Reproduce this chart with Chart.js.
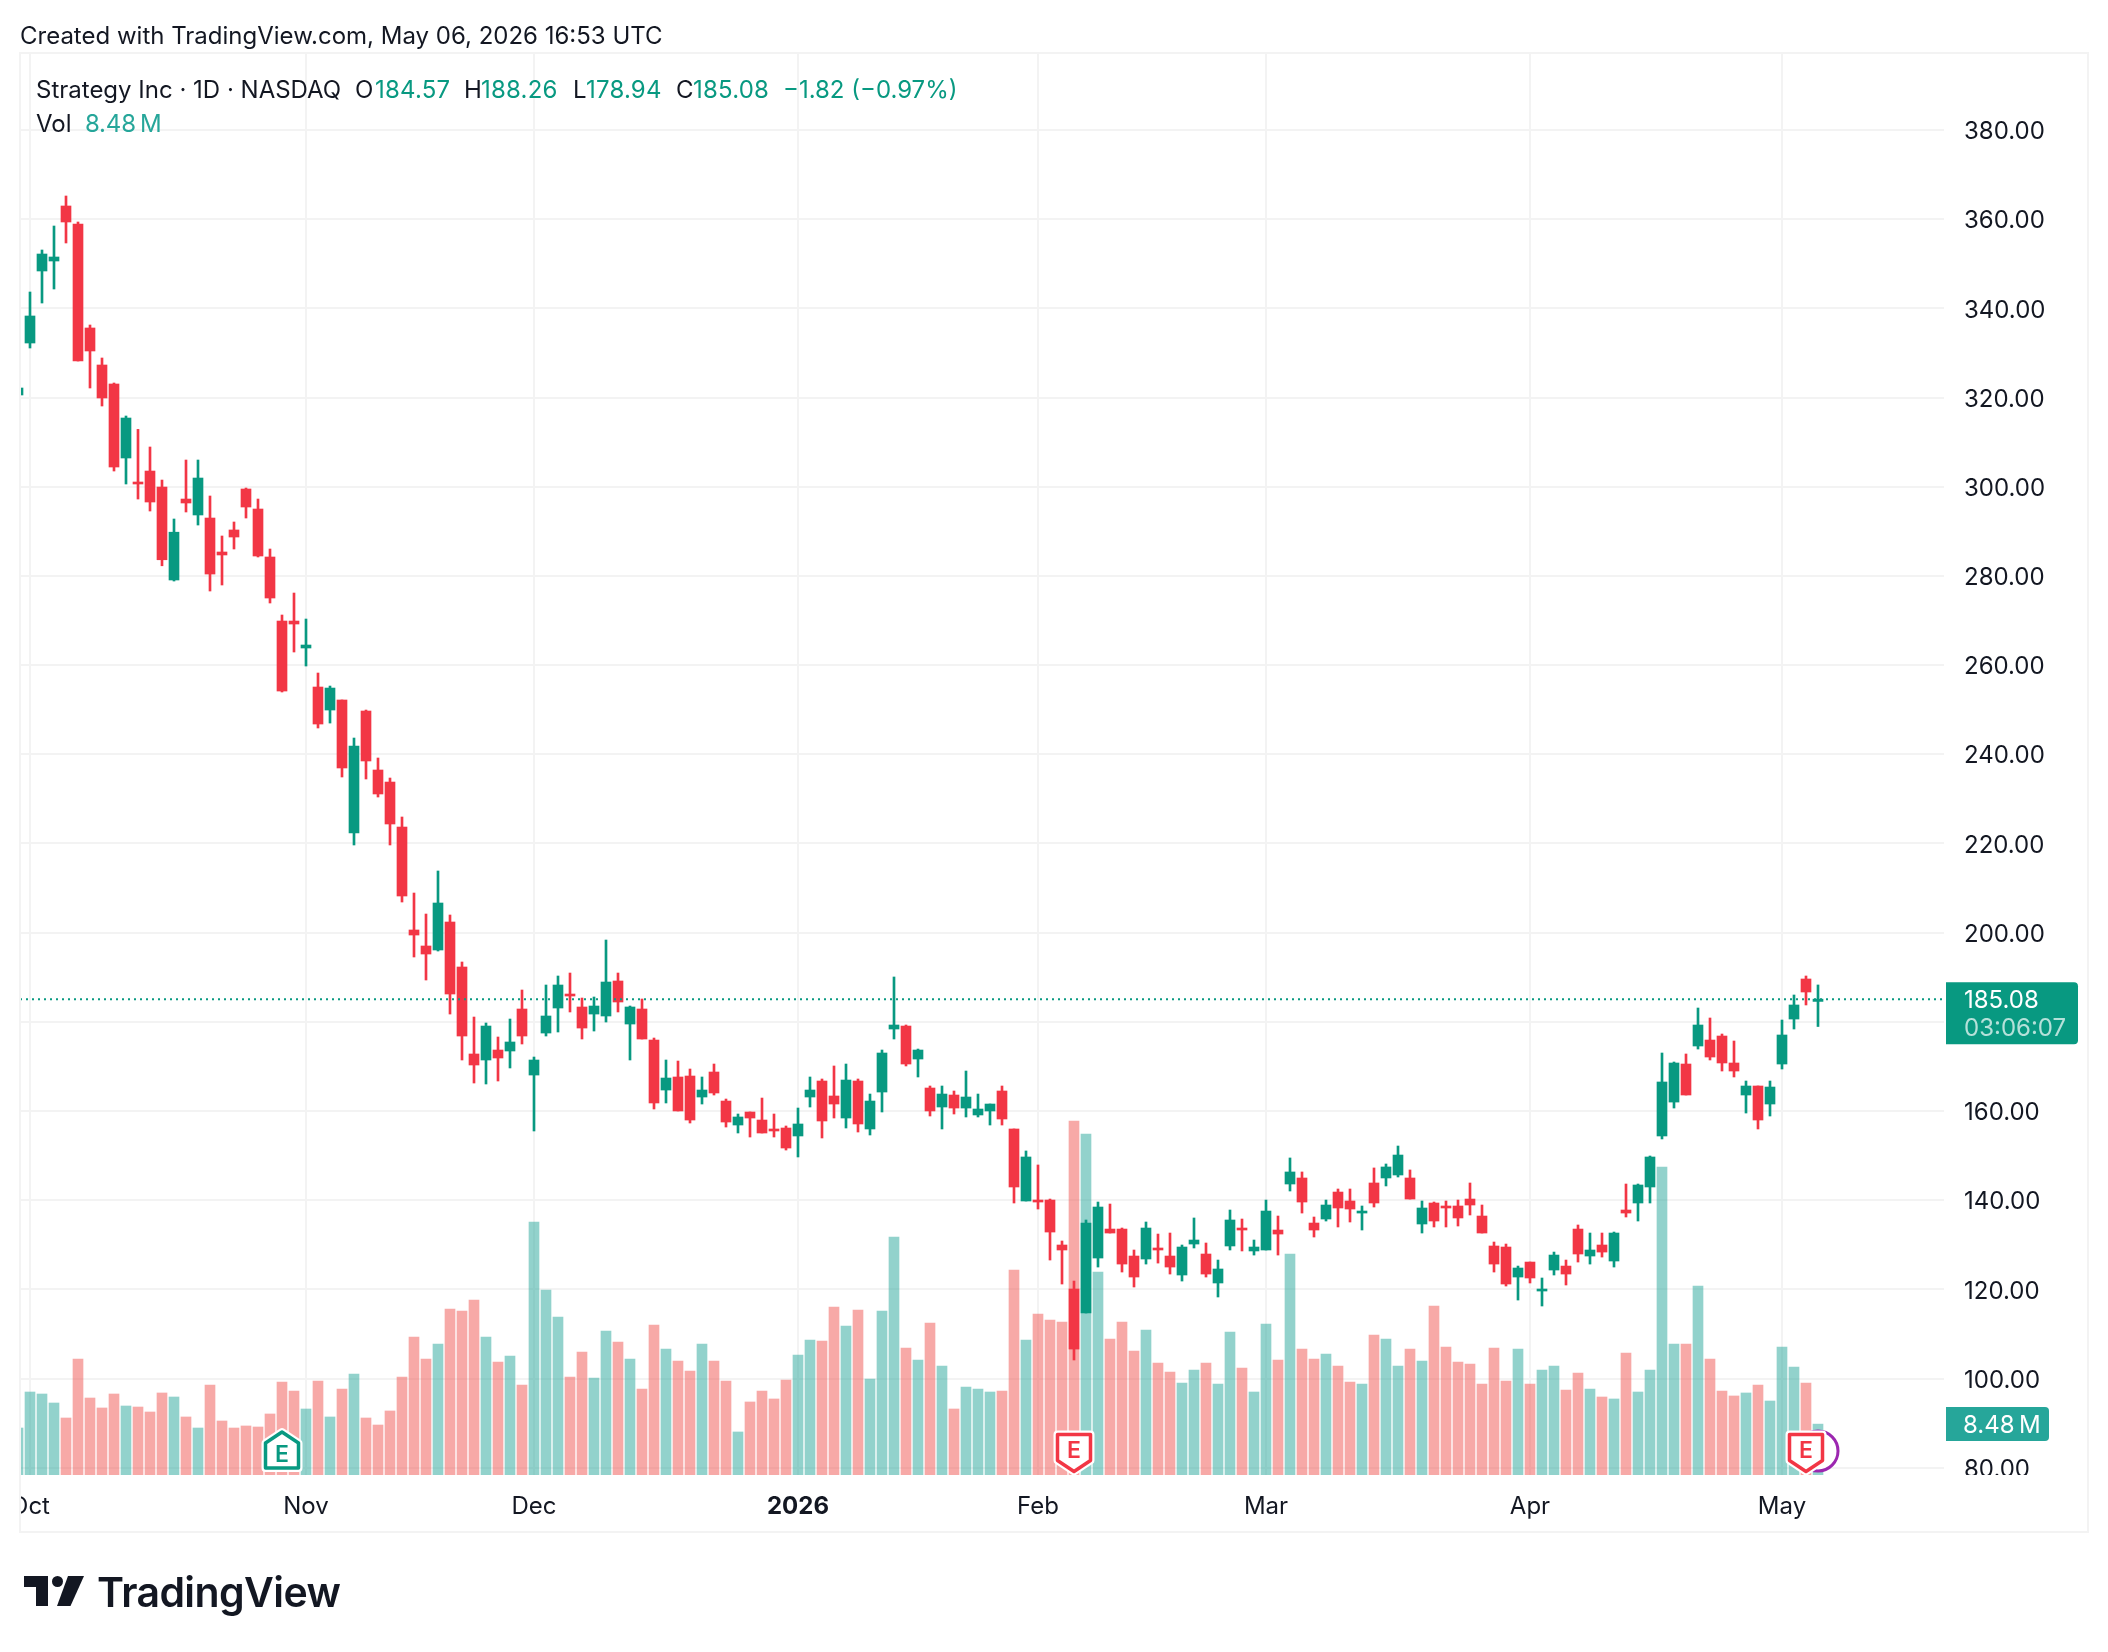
<!DOCTYPE html>
<html>
<head>
<meta charset="utf-8">
<title>Strategy Inc</title>
<script src="https://cdn.jsdelivr.net/npm/chart.js@4"></script>
<style>
    html, body { margin: 0; padding: 0; background: #fff; }
    #page { position: relative; width: 2108px; height: 1652px; overflow: hidden; font-family: Inter, sans-serif; color: #131722; }
    #grafico { position: absolute; left: 0; top: 0; }
    .txt { position: absolute; font-size: 24px; line-height: 30px; white-space: nowrap; }
    .up { color: #089981; letter-spacing: 0.2px; }
    .vol { color: #26a69a; }
    #marca { position: absolute; left: 97px; top: 1567px; font-size: 41px; line-height: 50px; font-weight: 600; color: #131722; white-space: nowrap; letter-spacing: -0.6px; }
</style>
</head>
<body>
<div id="page">
    <canvas id="grafico" width="2108" height="1652"></canvas>
    <div class="txt" style="left:20px;top:21px">Created with TradingView.com, May 06, 2026 16:53 UTC</div>
    <div class="txt" style="left:36px;top:75px">Strategy Inc · 1D · NASDAQ</div>
    <div class="txt" style="left:355px;top:75px">O</div>
    <div class="txt up" style="left:375px;top:75px">184.57</div>
    <div class="txt" style="left:464px;top:75px">H</div>
    <div class="txt up" style="left:481px;top:75px">188.26</div>
    <div class="txt" style="left:573px;top:75px">L</div>
    <div class="txt up" style="left:586px;top:75px">178.94</div>
    <div class="txt" style="left:676px;top:75px">C</div>
    <div class="txt up" style="left:693px;top:75px">185.08</div>
    <div class="txt up" style="left:783px;top:75px;letter-spacing:0">−1.82 (−0.97%)</div>
    <div class="txt" style="left:36px;top:109px">Vol</div>
    <div class="txt vol" style="left:85px;top:109px;letter-spacing:-0.2px">8.48&#8201;M</div>
    <svg style="position:absolute;left:0;top:1560px" width="100" height="60" fill="#131722">
        <polygon points="24,16 48,16 48,46 36,46 36,27 24,27"></polygon>
        <circle cx="57.5" cy="21.5" r="5.5"></circle>
        <polygon points="68,16 84,16 70.5,46 57,46"></polygon>
    </svg>
    <div id="marca">TradingView</div>
</div>

<script>
const opens = [
    320.57, 332.23, 348.38, 350.62, 362.96, 358.92, 335.6, 327.3, 323.04, 306.44,
    301.06, 303.52, 299.93, 279.08, 297.24, 293.66, 292.98, 285.36, 290.3, 299.49,
    295.0, 284.24, 269.88, 269.88, 263.83, 255.08, 249.92, 252.17, 222.34, 249.7,
    236.47, 233.77, 223.68, 200.59, 197.0, 196.1, 202.38, 192.29, 172.78, 171.43,
    173.67, 173.45, 182.87, 168.06, 177.48, 183.09, 186.23, 183.32, 181.74, 181.3,
    189.15, 179.5, 182.87, 175.91, 164.7, 167.62, 167.84, 163.13, 168.74, 162.23,
    156.85, 159.77, 157.97, 155.96, 156.18, 154.39, 163.13, 166.72, 163.36, 158.42,
    166.72, 155.96, 164.25, 178.38, 179.05, 171.65, 165.15, 160.89, 163.58, 160.66,
    159.1, 160.0, 164.48, 155.96, 139.81, 140.03, 140.03, 129.94, 120.07, 114.69,
    127.02, 133.52, 133.52, 127.47, 126.8, 129.27, 127.47, 123.21, 130.16, 127.92,
    121.42, 129.72, 133.75, 128.6, 128.82, 133.3, 143.62, 144.97, 134.87, 135.77,
    141.82, 139.81, 137.11, 143.85, 144.97, 145.64, 144.97, 134.65, 139.36, 138.69,
    138.69, 140.25, 136.44, 129.72, 129.49, 122.76, 126.12, 119.62, 124.33, 125.22,
    133.52, 127.47, 129.94, 126.35, 137.79, 139.36, 142.95, 154.39, 162.0, 170.53,
    174.57, 175.91, 176.81, 170.76, 163.58, 165.6, 161.56, 170.53, 180.62, 189.6,
    184.57
];
const highs = [
    322.14, 343.67, 353.09, 358.47, 365.2, 359.37, 336.27, 328.87, 323.26, 315.86,
    312.86, 308.91, 301.5, 292.76, 305.99, 305.99, 297.92, 288.95, 292.09, 299.71,
    297.24, 286.03, 271.23, 276.16, 270.33, 258.22, 255.3, 252.17, 243.64, 249.92,
    239.16, 234.67, 225.93, 208.88, 204.17, 213.82, 203.95, 193.41, 181.07, 179.73,
    176.59, 180.62, 187.13, 172.1, 188.25, 190.27, 190.94, 185.33, 185.56, 198.34,
    190.94, 183.54, 185.11, 176.36, 171.43, 171.2, 169.41, 167.62, 170.53, 162.68,
    159.32, 159.77, 162.9, 159.32, 156.63, 160.66, 167.62, 167.17, 170.09, 170.53,
    167.17, 163.8, 173.67, 190.05, 179.28, 173.89, 165.6, 165.6, 164.48, 168.96,
    163.8, 161.56, 165.6, 155.96, 151.03, 147.89, 140.25, 130.84, 121.86, 135.55,
    139.58, 139.13, 133.75, 128.82, 135.1, 132.4, 132.63, 129.94, 136.0, 130.39,
    126.57, 137.79, 135.77, 131.06, 140.03, 136.44, 149.46, 146.32, 136.22, 140.03,
    142.5, 142.5, 138.69, 147.22, 148.11, 152.14, 146.77, 139.81, 139.58, 139.81,
    140.03, 143.85, 138.91, 130.61, 130.16, 125.22, 126.12, 122.54, 128.36, 126.57,
    134.43, 132.63, 132.63, 132.85, 143.62, 143.62, 149.9, 173.0, 170.98, 172.78,
    183.09, 180.85, 177.26, 175.69, 166.72, 165.6, 166.72, 180.4, 186.01, 190.27,
    188.26
];
const lows = [
    320.57, 331.11, 341.2, 344.34, 354.66, 328.19, 322.14, 318.1, 303.52, 300.61,
    297.24, 294.55, 282.27, 278.85, 294.33, 291.41, 276.61, 277.96, 286.03, 292.98,
    284.24, 273.92, 253.96, 262.93, 259.79, 245.89, 247.0, 234.9, 219.65, 234.45,
    230.41, 219.65, 206.86, 194.53, 189.37, 195.87, 181.74, 171.43, 166.27, 166.05,
    166.72, 169.64, 175.02, 155.51, 176.81, 177.71, 182.2, 176.14, 177.93, 179.95,
    182.2, 171.43, 176.14, 160.44, 161.79, 160.0, 157.3, 161.56, 163.58, 156.4,
    155.06, 154.16, 155.06, 154.16, 151.24, 149.68, 160.89, 153.94, 158.42, 156.18,
    155.28, 154.61, 159.77, 176.14, 170.09, 167.62, 158.87, 155.96, 159.32, 158.65,
    158.65, 156.85, 156.85, 139.36, 139.81, 138.01, 126.57, 121.19, 104.15, 114.69,
    125.0, 132.63, 123.88, 120.52, 125.67, 125.89, 123.43, 121.86, 129.27, 122.76,
    118.28, 128.82, 128.6, 127.69, 128.82, 127.69, 142.05, 137.11, 131.73, 135.32,
    133.98, 135.1, 133.3, 138.46, 143.18, 145.19, 140.25, 132.63, 133.98, 133.98,
    134.2, 136.67, 132.63, 123.88, 120.74, 117.6, 121.42, 116.26, 123.21, 120.97,
    126.12, 125.67, 127.24, 125.0, 136.22, 135.32, 139.36, 153.72, 160.66, 163.58,
    173.89, 171.43, 168.96, 167.62, 159.54, 155.96, 158.87, 169.41, 178.38, 183.77,
    178.94
];
const closes = [
    322.14, 338.29, 352.19, 351.52, 359.37, 328.19, 330.44, 319.9, 304.42, 315.41,
    300.61, 296.57, 283.62, 289.8, 296.35, 301.95, 280.42, 284.69, 288.72, 295.45,
    284.46, 275.04, 254.18, 269.21, 264.5, 246.78, 254.85, 236.92, 241.85, 238.49,
    231.09, 224.36, 208.21, 199.46, 195.2, 206.64, 186.23, 176.81, 170.31, 179.05,
    171.88, 175.47, 176.81, 171.43, 181.3, 188.25, 185.78, 178.6, 183.54, 188.92,
    184.44, 183.32, 176.14, 161.79, 167.39, 160.0, 157.97, 164.7, 164.03, 157.52,
    158.65, 158.42, 155.06, 155.51, 151.69, 157.08, 164.7, 157.75, 161.56, 166.94,
    157.08, 162.23, 173.0, 179.28, 170.53, 173.67, 160.0, 163.8, 160.66, 163.13,
    160.44, 161.56, 158.2, 142.95, 149.68, 139.58, 132.85, 128.82, 106.61, 134.87,
    138.46, 132.63, 125.67, 122.76, 133.75, 128.82, 125.0, 129.49, 131.06, 123.43,
    124.56, 135.55, 133.3, 129.49, 137.56, 132.4, 146.32, 139.58, 133.3, 138.91,
    138.24, 138.01, 137.56, 139.36, 147.44, 150.12, 140.25, 138.24, 135.32, 138.24,
    136.0, 138.91, 132.63, 125.67, 121.19, 124.78, 122.54, 120.07, 127.69, 123.43,
    127.92, 128.82, 128.36, 132.63, 137.11, 143.4, 149.68, 166.5, 170.76, 163.58,
    179.28, 172.1, 170.76, 168.96, 165.6, 157.97, 165.37, 177.04, 183.77, 186.68,
    185.08
];
// volume em milhões
const volumes = [
    7.83, 13.83, 13.5, 12.0, 9.5, 19.33, 12.83, 11.17, 13.5, 11.5,
    11.33, 10.5, 13.67, 13.0, 9.67, 7.83, 15.0, 9.0, 7.83, 8.17,
    8.0, 10.17, 15.5, 14.0, 11.0, 15.67, 9.67, 14.33, 16.83, 9.5,
    8.33, 10.67, 16.33, 23.0, 19.33, 21.83, 27.67, 27.33, 29.17, 23.0,
    18.83, 19.83, 15.0, 42.17, 30.83, 26.33, 16.33, 20.5, 16.17, 24.0,
    22.17, 19.33, 14.33, 25.0, 21.0, 19.0, 17.33, 21.83, 19.0, 15.67,
    7.17, 12.17, 14.0, 12.67, 15.83, 20.0, 22.5, 22.33, 28.0, 24.83,
    27.5, 16.0, 27.33, 39.67, 21.17, 19.17, 25.33, 18.17, 11.0, 14.67,
    14.33, 13.83, 14.0, 34.17, 22.5, 26.83, 25.83, 25.5, 59.0, 56.83,
    33.83, 22.67, 25.5, 20.67, 24.17, 18.67, 17.17, 15.33, 17.5, 18.67,
    15.17, 23.83, 17.83, 13.83, 25.17, 19.17, 36.83, 21.0, 19.33, 20.17,
    18.17, 15.5, 15.17, 23.33, 22.67, 18.17, 21.0, 19.0, 28.17, 21.33,
    18.83, 18.5, 15.17, 21.17, 15.67, 21.0, 15.17, 17.5, 18.17, 14.17,
    17.0, 14.33, 13.0, 12.67, 20.33, 13.83, 17.5, 51.33, 21.83, 21.83,
    31.5, 19.33, 14.0, 13.17, 13.67, 15.0, 12.33, 21.33, 18.0, 15.33,
    8.48
];

const precoTicks = [80, 100, 120, 140, 160, 180, 200, 220, 240, 260, 280, 300, 320, 340, 360, 380];
const mesTicks = [1, 24, 43, 65, 85, 104, 126, 147];
const mesLabels = ['Oct', 'Nov', 'Dec', '2026', 'Feb', 'Mar', 'Apr', 'May'];
const ultimoPreco = 185.08;
const ultimoVolume = 8.48;
const contagem = '03:06:07';
// barras com balanço: índice e direção da seta
const balancoIdx = [22, 88, 149];
const balancoCor = ['#089981', '#f23645', '#f23645'];
const balancoCima = [true, false, false];
const dividendoIdx = 150;

const VERDE = '#089981';
const VERMELHO = '#f23645';
const VOL_VERDE = 'rgba(38, 166, 154, 0.5)';
const VOL_VERMELHO = 'rgba(239, 83, 80, 0.5)';
const GRADE = '#f3f3f3';

const cores = closes.map((c, i) => c >= opens[i] ? VERDE : VERMELHO);
const coresVol = closes.map((c, i) => c >= opens[i] ? VOL_VERDE : VOL_VERMELHO);

const corpos = opens.map((o, i) => ({ x: i, y: [o, closes[i]] }));
const pavios = highs.map((h, i) => ({ x: i, y: [lows[i], h] }));
const barrasVol = volumes.map((v, i) => ({ x: i, y: v }));

const xMin = 1 / 6;
const xMax = 160.5;

function pinoBalanco(ctx, x, cima, cor) {
    // casinha do "E"; a ponta aponta para cima ou para baixo
    const topo = cima ? 1432 : 1434.5;
    const base = cima ? 1468 : 1471.5;
    const ombro = cima ? topo + 11 : base - 11;
    const m = 16.5;
    ctx.beginPath();
    if (cima) {
        ctx.moveTo(x, topo);
        ctx.lineTo(x + m, ombro);
        ctx.lineTo(x + m, base);
        ctx.lineTo(x - m, base);
        ctx.lineTo(x - m, ombro);
    } else {
        ctx.moveTo(x, base);
        ctx.lineTo(x + m, ombro);
        ctx.lineTo(x + m, topo);
        ctx.lineTo(x - m, topo);
        ctx.lineTo(x - m, ombro);
    }
    ctx.closePath();
    ctx.lineJoin = 'round';
    ctx.strokeStyle = '#fff';
    ctx.lineWidth = 8;
    ctx.stroke();
    ctx.fillStyle = '#fff';
    ctx.fill();
    ctx.strokeStyle = cor;
    ctx.lineWidth = 3.5;
    ctx.stroke();
    ctx.fillStyle = cor;
    ctx.font = '600 23px Inter';
    ctx.textAlign = 'center';
    ctx.textBaseline = 'middle';
    ctx.fillText('E', x, cima ? 1455 : 1451);
}

function etiqueta(ctx, x, y, w, h, cor) {
    ctx.beginPath();
    ctx.roundRect(x, y, w, h, [0, 4, 4, 0]);
    ctx.fillStyle = cor;
    ctx.fill();
}

const extras = {
    id: 'extras',
    afterDatasetsDraw(chart) {
        const ctx = chart.ctx;
        const xs = chart.scales.x;
        ctx.save();
        // anel roxo atrás do último pino
        const xd = xs.getPixelForValue(dividendoIdx);
        ctx.beginPath();
        ctx.arc(xd, 1451, 20, 0, Math.PI * 2);
        ctx.fillStyle = '#fff';
        ctx.fill();
        ctx.strokeStyle = '#9c27b0';
        ctx.lineWidth = 3;
        ctx.stroke();
        balancoIdx.forEach((k, i) => pinoBalanco(ctx, xs.getPixelForValue(k), balancoCima[i], balancoCor[i]));
        ctx.restore();
    },
    afterDraw(chart) {
        const ctx = chart.ctx;
        const ys = chart.scales.y;
        const yv = chart.scales.vol;
        const a = chart.chartArea;
        ctx.save();
        // corta o que passa da moldura: "Oct" e o "80.00"
        ctx.fillStyle = '#fff';
        ctx.fillRect(0, a.bottom, 20, 60);
        ctx.fillRect(a.right + 1, a.bottom, 143, 57);
        ctx.strokeStyle = GRADE;
        ctx.lineWidth = 2;
        ctx.strokeRect(20, 53, 2068, 1479);

        // etiqueta do volume
        const yVol = yv.getPixelForValue(ultimoVolume);
        etiqueta(ctx, 1946, yVol - 17, 103, 34, '#26a69a');
        ctx.font = '24px Inter';
        ctx.textAlign = 'left';
        ctx.textBaseline = 'middle';
        ctx.fillStyle = '#fff';
        ctx.fillText('8.48\u2009M', 1963, yVol + 2);

        // etiqueta do preço com a contagem regressiva
        const yPreco = ys.getPixelForValue(ultimoPreco);
        etiqueta(ctx, 1946, yPreco - 17, 132, 62, VERDE);
        ctx.fillStyle = '#fff';
        ctx.fillText(ultimoPreco.toFixed(2), 1964, yPreco + 2);
        ctx.fillStyle = 'rgba(255, 255, 255, 0.7)';
        ctx.fillText(contagem, 1964, yPreco + 30);
        ctx.restore();
    }
};

document.addEventListener('DOMContentLoaded', function() {
    const ctxGrafico = document.getElementById('grafico');
    new Chart(ctxGrafico, {
        data: {
            datasets: [
                {
                    type: 'line',
                    data: [{ x: xMin, y: ultimoPreco }, { x: xMax, y: ultimoPreco }],
                    yAxisID: 'y',
                    borderColor: VERDE,
                    borderWidth: 2,
                    borderDash: [2, 4],
                    pointRadius: 0,
                    order: 0
                },
                {
                    type: 'bar',
                    data: corpos,
                    yAxisID: 'y',
                    backgroundColor: cores,
                    borderWidth: 0,
                    barThickness: 10,
                    grouped: false,
                    order: 1
                },
                {
                    type: 'bar',
                    data: pavios,
                    yAxisID: 'y',
                    backgroundColor: cores,
                    borderWidth: 0,
                    barThickness: 2,
                    grouped: false,
                    order: 2
                },
                {
                    type: 'bar',
                    data: barrasVol,
                    yAxisID: 'vol',
                    backgroundColor: coresVol,
                    borderWidth: 0,
                    barThickness: 10,
                    grouped: false,
                    order: 3
                }
            ]
        },
        options: {
            responsive: false,
            animation: false,
            events: [],
            layout: { autoPadding: false, padding: { left: 20, top: 53, right: 20, bottom: 120 } },
            plugins: {
                legend: { display: false },
                tooltip: { enabled: false }
            },
            scales: {
                x: {
                    type: 'linear',
                    min: xMin,
                    max: xMax,
                    offset: false,
                    afterBuildTicks: axis => { axis.ticks = mesTicks.map(v => ({ value: v })); },
                    afterFit: axis => { axis.height = 57; axis.paddingLeft = 0; axis.paddingRight = 0; },
                    border: { display: false },
                    grid: { color: GRADE, lineWidth: 2, drawTicks: false, offset: false },
                    ticks: {
                        autoSkip: false,
                        maxRotation: 0,
                        padding: 17,
                        color: '#131722',
                        font: ctx => ({
                            family: 'Inter',
                            size: 24,
                            weight: ctx.tick && mesLabels[mesTicks.indexOf(ctx.tick.value)] === '2026' ? 'bold' : 'normal'
                        }),
                        callback: v => mesLabels[mesTicks.indexOf(v)]
                    }
                },
                y: {
                    position: 'right',
                    min: 78.36,
                    max: 397.27,
                    afterBuildTicks: axis => { axis.ticks = precoTicks.map(v => ({ value: v })); },
                    afterFit: axis => { axis.width = 144; },
                    border: { display: false },
                    grid: { color: GRADE, lineWidth: 2, drawTicks: false },
                    ticks: {
                        padding: 20,
                        labelOffset: 2,
                        color: '#131722',
                        font: { family: 'Inter', size: 24 },
                        callback: v => v.toFixed(2)
                    }
                },
                vol: {
                    display: false,
                    min: 0,
                    max: 237
                }
            }
        },
        plugins: [extras]
    });
});
</script>
</body>
</html>
